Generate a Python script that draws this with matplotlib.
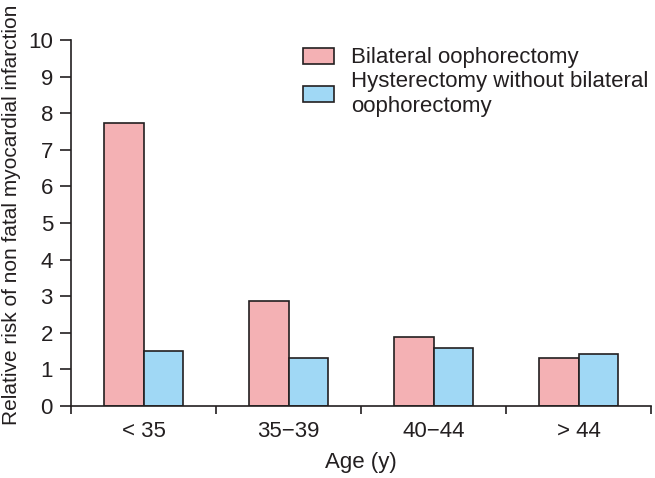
import matplotlib
matplotlib.use("Agg")
import matplotlib.pyplot as plt
import numpy as np

plt.rcParams['font.family'] = ['Liberation Sans', 'DejaVu Sans']

categories = ["< 35", "35\u221239", "40\u221244", "> 44"]
bilateral = [7.74, 2.88, 1.89, 1.32]
hysterectomy = [1.51, 1.30, 1.58, 1.43]
series_names = ["Bilateral oophorectomy", "Hysterectomy without bilateral\noophorectomy"]
yticks = list(range(0, 11))

TXT = "#231F20"
fig = plt.figure(figsize=(6.55, 4.78), dpi=100)
ax = fig.add_axes([71/655, 1 - 406/478, 580/655, 366/478])

x = np.arange(len(categories)) + 0.5
w = 0.27
ax.bar(x - w/2, bilateral, w, color="#F4B1B4", edgecolor=TXT, linewidth=1.2, label=series_names[0])
ax.bar(x + w/2, hysterectomy, w, color="#A0D8F5", edgecolor=TXT, linewidth=1.2, label=series_names[1])

ax.set_xlim(0, 4)
ax.set_ylim(0, 10)
ax.set_yticks(yticks)
ax.set_yticklabels([str(t) for t in yticks], fontsize=16, color=TXT)
ax.set_xticks(np.arange(0, 5))
ax.set_xticklabels([])
ax.set_xticks(x, minor=True)
ax.set_xticklabels(categories, minor=True, fontsize=16, color=TXT)
ax.tick_params(axis='x', which='minor', length=0, pad=11)
ax.tick_params(axis='x', which='major', length=6, width=1.2, color=TXT, direction='out')
ax.tick_params(axis='y', length=8, width=1.2, color=TXT, direction='out', pad=5)
for s in ["top", "right"]:
    ax.spines[s].set_visible(False)
for s in ["left", "bottom"]:
    ax.spines[s].set_linewidth(1.2)
    ax.spines[s].set_color(TXT)

ax.set_xlabel("Age (y)", fontsize=16, color=TXT, labelpad=7)
ax.set_ylabel("Relative risk of non fatal myocardial infarction", fontsize=15, color=TXT)
ax.yaxis.set_label_coords(-0.1025, 0.522)
ax.yaxis.label.set_va("center")

leg = ax.legend(loc="upper left", bbox_to_anchor=(0.40, 0.98), frameon=False, fontsize=16,
                handlelength=1.4, handleheight=0.73, handletextpad=0.75, labelspacing=0.1,
                borderpad=0, borderaxespad=0)
for t in leg.get_texts():
    t.set_color(TXT)
    t.set_linespacing(1.25)

fig.savefig("out.png", dpi=100)
